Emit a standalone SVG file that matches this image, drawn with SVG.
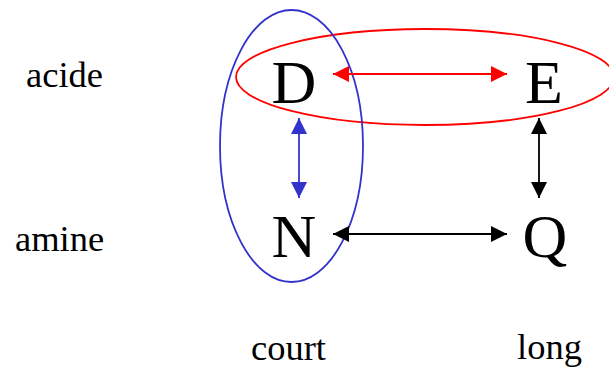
<svg xmlns="http://www.w3.org/2000/svg" width="609" height="368" viewBox="0 0 609 368">
<style>
text{font-family:"Liberation Serif","Times New Roman",serif;fill:#000}
.big{font-size:62px;text-anchor:middle}
.lbl{font-size:36.5px}
.c{fill:none;stroke-width:1.8}
</style>
<defs>
<marker id="ar" viewBox="0 0 16 16" refX="16" refY="8" markerWidth="16" markerHeight="16" markerUnits="userSpaceOnUse" orient="auto-start-reverse"><path d="M0,0 L16,8 L0,16 z" fill="#f00"/></marker>
<marker id="ab" viewBox="0 0 16 16" refX="16" refY="8" markerWidth="16" markerHeight="16" markerUnits="userSpaceOnUse" orient="auto-start-reverse"><path d="M0,0 L16,8 L0,16 z" fill="#3333cc"/></marker>
<marker id="ak" viewBox="0 0 16 16" refX="16" refY="8" markerWidth="16" markerHeight="16" markerUnits="userSpaceOnUse" orient="auto-start-reverse"><path d="M0,0 L16,8 L0,16 z" fill="#000"/></marker>
</defs>
<rect width="609" height="368" fill="#fff"/>
<g id="groups">
<ellipse id="acid-group" cx="425" cy="77" rx="189" ry="48" class="c" stroke="#f00"/>
<ellipse id="short-group" cx="291.5" cy="146" rx="71.5" ry="136" class="c" stroke="#3333cc"/>
</g>
<g id="labels">
<text class="lbl" x="26" y="87">acide</text>
<text class="lbl" x="15" y="251">amine</text>
<text class="lbl" x="251" y="360">court</text>
<text class="lbl" x="517" y="359">long</text>
</g>
<g id="node-D"><text class="big" x="294" y="103">D</text></g>
<g id="node-E"><text class="big" x="544" y="103">E</text></g>
<g id="node-N"><text class="big" x="294" y="257">N</text></g>
<g id="node-Q"><text class="big" x="545" y="257">Q</text></g>
<g id="connectors" stroke-width="1.8">
<line x1="333" y1="74" x2="507" y2="74" stroke="#f00" marker-start="url(#ar)" marker-end="url(#ar)"/>
<line x1="299" y1="118" x2="299" y2="198" stroke="#3333cc" marker-start="url(#ab)" marker-end="url(#ab)"/>
<line x1="539" y1="118" x2="539" y2="198" stroke="#000" marker-start="url(#ak)" marker-end="url(#ak)"/>
<line x1="333" y1="234" x2="507" y2="234" stroke="#000" marker-start="url(#ak)" marker-end="url(#ak)"/>
</g>
</svg>
